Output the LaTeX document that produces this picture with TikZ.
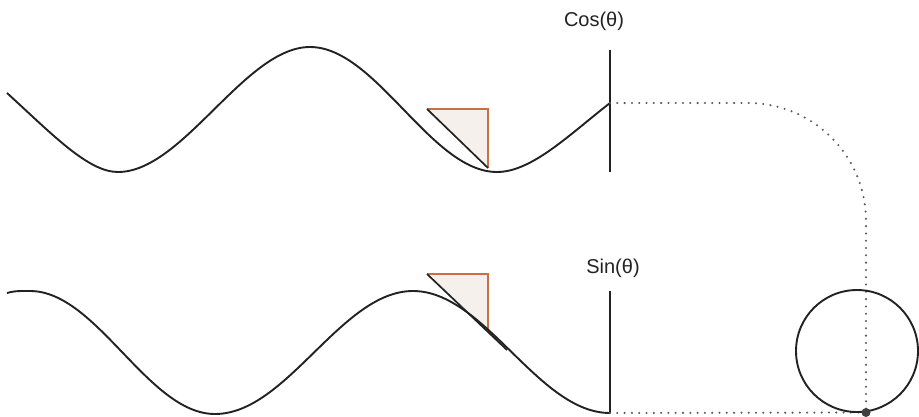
\documentclass[tikz,border=0pt]{standalone}
\usepackage{fontspec}
\setmainfont{Liberation Sans}
\definecolor{trifill}{RGB}{245,240,236}
\definecolor{triorange}{RGB}{200,112,64}
\definecolor{ink}{RGB}{34,34,34}
\begin{document}
\begin{tikzpicture}[x=1pt,y=-1pt,
  wave/.style={draw=ink, line width=1.9pt},
  axisline/.style={draw=ink, line width=1.9pt},
  triedge/.style={draw=triorange, line width=1.5pt, line join=miter},
  tangent/.style={draw=ink, line width=1.7pt},
  dots/.style={draw=black!65, line width=2.3pt, line cap=round, dash pattern=on 0pt off 7.3pt},
  lbl/.style={font=\fontsize{20}{23}\selectfont, text=ink, inner sep=0pt}]
\useasboundingbox (0,0) rectangle (919,416);

% named points
\coordinate (cosend) at (610,103);
\coordinate (sinend) at (610,413);
\coordinate (corner) at (866,103);
\coordinate (dot) at (866,412.5);
\coordinate (cosTop) at (610,50);
\coordinate (cosBot) at (610,172);
\coordinate (sinTop) at (610,291);

% top triangle
\coordinate (t1a) at (427,109);
\coordinate (t1b) at (488,109);
\coordinate (t1c) at (488,168);
\fill[trifill] (t1a) -- (t1b) -- (t1c) -- cycle;
\draw[triedge] (t1a) -- (t1b) -- (t1c);
\draw[tangent] (t1a) -- (t1c);

% bottom triangle
\coordinate (t2a) at (427,274);
\coordinate (t2b) at (488,274);
\coordinate (t2c) at (488,332);
\coordinate (t2e) at (507,350);
\fill[trifill] (t2a) -- (t2b) -- (t2c) -- cycle;
\draw[triedge] (t2a) -- (t2b) -- (t2c);
\draw[tangent] (t2a) -- (t2e);

% cosine wave
\draw[wave] (7,93) .. controls (52,134) and (88,172) .. (118,172)
  .. controls (183,172) and (245,47) .. (310,47)
  .. controls (376,47) and (431,172) .. (497,172)
  .. controls (532,172) and (570,134) .. (cosend);

% sine wave
\draw[wave] (7,293) .. controls (16,290.5) and (22,291) .. (30,291)
  .. controls (97,291) and (148,414) .. (215,414)
  .. controls (287,414) and (341,291) .. (413,291)
  .. controls (485,291) and (538,413) .. (sinend);

% axes
\draw[axisline] (cosTop) -- (cosBot);
\draw[axisline] (sinTop) -- (sinend);

% labels
\node[lbl] (coslbl) at (594,21) {Cos(θ)};
\node[lbl] (sinlbl) at (613,268) {Sin(θ)};

% dotted projections
\draw[dots, rounded corners=118pt] (cosend) -- (corner) -- (dot);
\draw[dots] (sinend) -- (dot);

% circle
\draw[draw=ink, line width=1.9pt] (857,351) circle[radius=61pt];
\fill[black!75] (dot) circle[radius=4.5pt];
\end{tikzpicture}
\end{document}
